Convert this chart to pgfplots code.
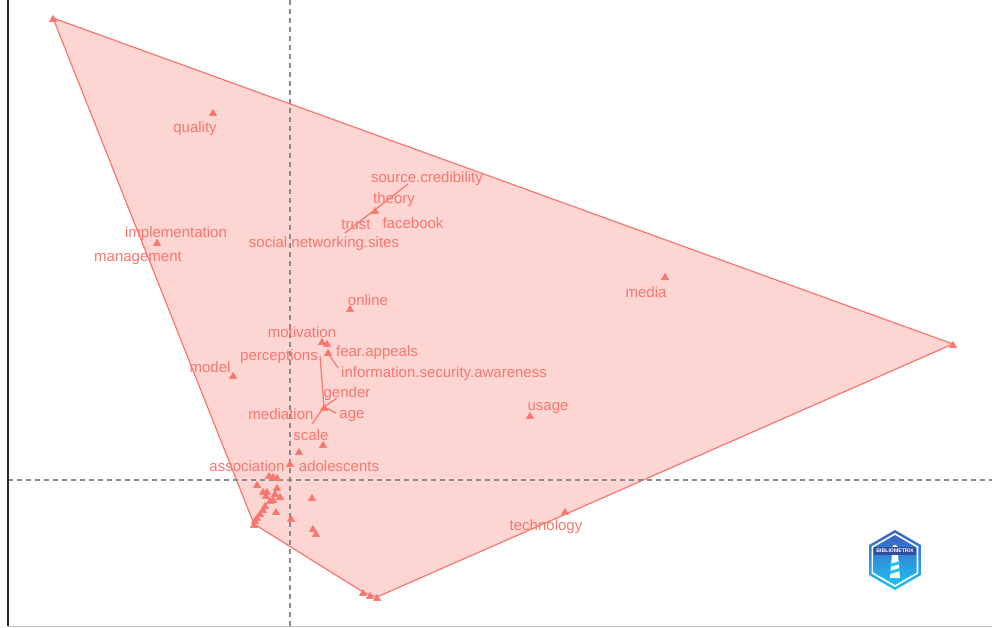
\documentclass[border=0pt]{standalone}
\usepackage{pgfplots}
\pgfplotsset{compat=1.18}
\usepackage{fontspec}
\setmainfont{Liberation Sans}
\definecolor{cl}{HTML}{F8766D}
\definecolor{clfill}{HTML}{FDD6D3}
\definecolor{dashg}{HTML}{8A8A8A}
\definecolor{logoA}{HTML}{3C62C4}
\definecolor{logoB}{HTML}{1FC2F2}
\tikzset{lab/.style={font=\fontsize{15}{18}\selectfont, text=cl, inner sep=0pt, yshift=-2pt}}
\begin{document}
\begin{tikzpicture}
\begin{axis}[
  scale only axis, width=984pt, height=626pt,
  xmin=-2.82, xmax=7.02, ymin=-1.46, ymax=4.80,
  hide axis, clip=false,
]
% convex hull of cluster
\addplot[draw=cl, line width=1.2pt, fill=clfill] coordinates {
 (-2.37,4.62) (6.63,1.36) (0.87,-1.17) (0.80,-1.15) (0.73,-1.12) (-0.36,-0.44)} -- cycle;
% dashed reference lines
\draw[dashg, line width=1.1pt, dash pattern=on 5pt off 4pt] (axis cs:0,-1.46) -- (axis cs:0,4.80);
\draw[dashg, line width=1.1pt, dash pattern=on 5pt off 4pt] (axis cs:-2.82,0) -- (axis cs:7.02,0);
% segments (label to point)
\addplot[cl, line width=1.2pt] coordinates {(0.55,2.47) (1.18,2.96)};
\addplot[cl, line width=1.2pt] coordinates {(0.38,1.27) (0.48,1.12)};
\addplot[cl, line width=1.2pt] coordinates {(0.30,1.24) (0.34,0.73)};
\addplot[cl, line width=1.2pt] coordinates {(0.34,0.73) (0.47,0.82)};
\addplot[cl, line width=1.2pt] coordinates {(0.34,0.73) (0.46,0.67)};
\addplot[cl, line width=1.2pt] coordinates {(0.34,0.73) (0.22,0.56)};
% points
\addplot[only marks, mark=triangle*, mark size=4.2pt, color=cl, mark options={yshift=-1.5pt}] coordinates {
 (-2.37,4.62) (6.63,1.36) (0.87,-1.17) (0.80,-1.15) (0.73,-1.12) (-0.36,-0.44)
 (-0.77,3.68) (-1.33,2.38) (0.85,2.70) (0.60,1.72) (3.75,2.04)
 (0.32,1.39) (0.37,1.37) (0.38,1.28) (-0.57,1.05) (2.40,0.65) (0.34,0.73)
 (0.33,0.36) (0.09,0.29) (0.00,0.17) (2.75,-0.31)
 (-0.21,0.05) (-0.17,0.04) (-0.13,0.03) (-0.33,-0.04) (-0.13,-0.07)
 (-0.27,-0.11) (-0.23,-0.11) (-0.24,-0.15) (-0.15,-0.13) (-0.10,-0.16)
 (-0.17,-0.19) (-0.20,-0.20) (-0.25,-0.25) (-0.14,-0.31) (-0.27,-0.29)
 (-0.30,-0.33) (-0.33,-0.37) (-0.35,-0.40) (0.01,-0.38) (0.22,-0.17)
 (0.23,-0.48) (0.26,-0.53)};
% labels
\node[lab] at (axis cs:-0.95,3.53) {quality};
\node[lab] at (axis cs:-1.14,2.48) {implementation};
\node[lab] at (axis cs:-1.52,2.24) {management};
\node[lab] at (axis cs:1.37,3.03) {source.credibility};
\node[lab] at (axis cs:1.04,2.82) {theory};
\node[lab] at (axis cs:1.23,2.59) {facebook};
\node[lab] at (axis cs:0.66,2.57) {trust};
\node[lab] at (axis cs:0.34,2.38) {social.networking.sites};
\node[lab] at (axis cs:0.78,1.82) {online};
\node[lab] at (axis cs:3.56,1.90) {media};
\node[lab] at (axis cs:0.12,1.50) {motivation};
\node[lab] at (axis cs:0.87,1.29) {fear.appeals};
\node[lab] at (axis cs:-0.11,1.25) {perceptions};
\node[lab] at (axis cs:1.54,1.08) {information.security.awareness};
\node[lab] at (axis cs:-0.80,1.15) {model};
\node[lab] at (axis cs:0.57,0.88) {gender};
\node[lab] at (axis cs:-0.09,0.68) {mediation};
\node[lab] at (axis cs:0.62,0.66) {age};
\node[lab] at (axis cs:2.58,0.74) {usage};
\node[lab] at (axis cs:0.21,0.47) {scale};
\node[lab] at (axis cs:-0.43,0.16) {association};
\node[lab] at (axis cs:0.49,0.16) {adolescents};
\node[lab] at (axis cs:2.56,-0.45) {technology};
% frame lines
\draw[black!85, line width=2.4pt] (rel axis cs:0,0) -- (rel axis cs:0,1);
\draw[black!25, line width=1pt] (rel axis cs:0,0) -- (rel axis cs:1,0);
\coordinate (SW) at (rel axis cs:0,0);
\coordinate (NE) at (rel axis cs:1,1);
\coordinate (logo) at (axis cs:6.05,-0.80);
\end{axis}
% logo
\begin{scope}[shift={(logo)}]
  \shade[top color=logoA, bottom color=logoB]
    (90:30pt) -- (30:30pt) -- (-30:30pt) -- (-90:30pt) -- (-150:30pt) -- (150:30pt) -- cycle;
  \fill[white]
    (90:27pt) -- (30:27pt) -- (-30:27pt) -- (-90:27pt) -- (-150:27pt) -- (150:27pt) -- cycle;
  \shade[top color=logoA, bottom color=logoB]
    (90:25pt) -- (30:25pt) -- (-30:25pt) -- (-90:25pt) -- (-150:25pt) -- (150:25pt) -- cycle;
  \fill[white] (-3pt,6pt) -- (3pt,6pt) -- (5pt,-18pt) -- (-5pt,-18pt) -- cycle;
  \fill[logoB] (-5pt,-4pt) -- (5pt,-1pt) -- (5pt,-4pt) -- (-5pt,-7pt) -- cycle;
  \fill[logoB] (-5pt,-11pt) -- (5pt,-8pt) -- (5pt,-11pt) -- (-5pt,-14pt) -- cycle;
  \fill[white] (0pt,12pt) circle (3pt);
  \fill[logoA!80!black] (-21pt,5pt) rectangle (21pt,13pt);
  \node[text=white, font=\fontsize{5.2}{6}\selectfont\bfseries, inner sep=0pt] at (0,9pt) {BIBLIOMETRIX};
\end{scope}
\pgfresetboundingbox
\path[use as bounding box] ([shift={(-8pt,-1pt)}]SW) rectangle (NE);
\end{tikzpicture}
\end{document}
